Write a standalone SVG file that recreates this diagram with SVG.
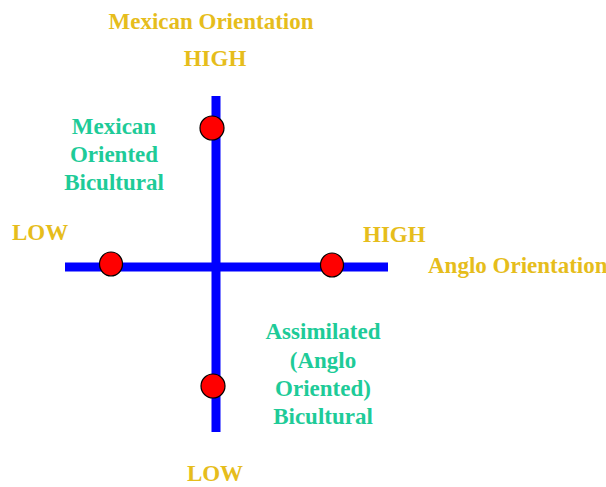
<svg xmlns="http://www.w3.org/2000/svg" width="606" height="487" viewBox="0 0 606 487">
<style>
.y{fill:#e6bd1c;font-family:"Liberation Serif",serif;font-weight:bold;font-size:23px}
.g{fill:#1ecb98;font-family:"Liberation Serif",serif;font-weight:bold;font-size:23px;text-anchor:middle}
.ax{stroke:#0000ff;stroke-width:9;fill:none}
.dot{fill:#ff0000;stroke:#000;stroke-width:1.2}
</style>
<rect width="606" height="487" fill="#fff"/>
<g id="connectors">
<line class="ax" x1="216" y1="96" x2="216" y2="432"/>
<line class="ax" x1="65" y1="267" x2="388" y2="267"/>
</g>
<g id="labels">
<text class="y" x="211" y="29" text-anchor="middle">Mexican Orientation</text>
<text class="y" x="215" y="66" text-anchor="middle">HIGH</text>
<text class="y" x="12" y="240">LOW</text>
<text class="y" x="363" y="242">HIGH</text>
<text class="y" x="428" y="273">Anglo Orientation</text>
<text class="y" x="215" y="481" text-anchor="middle">LOW</text>
</g>
<g id="node-mexican">
<circle class="dot" cx="212" cy="128" r="12"/>
<text class="g" x="114" y="134">Mexican</text>
<text class="g" x="114" y="162">Oriented</text>
<text class="g" x="114" y="190">Bicultural</text>
</g>
<g id="node-low">
<ellipse class="dot" cx="111" cy="264" rx="11.5" ry="12"/>
</g>
<g id="node-anglo">
<ellipse class="dot" cx="332" cy="265" rx="11.5" ry="12"/>
</g>
<g id="node-assimilated">
<circle class="dot" cx="213" cy="386" r="12"/>
<text class="g" x="323" y="339">Assimilated</text>
<text class="g" x="323" y="368">(Anglo</text>
<text class="g" x="323" y="396">Oriented)</text>
<text class="g" x="323" y="424">Bicultural</text>
</g>
</svg>
